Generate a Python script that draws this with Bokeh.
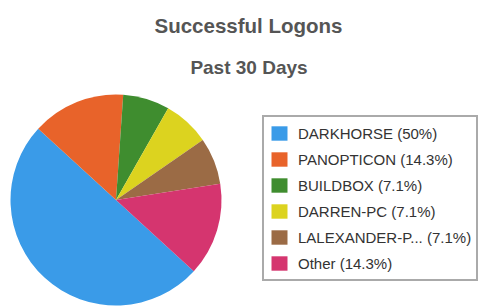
from math import pi
from bokeh.plotting import figure
from bokeh.models import ColumnDataSource, Range1d, Legend, LegendItem
from bokeh.core.properties import value
from bokeh.embed import file_html
from bokeh.resources import INLINE

# ---- data ----
hosts = ["DARKHORSE", "PANOPTICON", "BUILDBOX", "DARREN-PC", "LALEXANDER-P...", "Other"]
logons = [7, 2, 1, 1, 1, 2]
pct_labels = ["50%", "14.3%", "7.1%", "7.1%", "7.1%", "14.3%"]
colors = ["#3A9BE8", "#E8632A", "#3F8D2F", "#DCD31F", "#9B6B45", "#D5356F"]
title_text = "Successful Logons"
subtitle_text = "Past 30 Days"

W, H = 480, 308
total = sum(logons)
start0 = -42.5 * pi / 180.0
starts, ends = [], []
cum = 0
for v in logons:
    end = start0 - cum / total * 2 * pi
    cum += v
    start = start0 - cum / total * 2 * pi
    starts.append(start)
    ends.append(end)

labels = [f"{h} ({p})" for h, p in zip(hosts, pct_labels)]
src = ColumnDataSource(dict(start=starts, end=ends, color=colors, label=labels))

p = figure(width=W, height=H, output_backend="svg", toolbar_location=None,
           x_range=Range1d(0, W), y_range=Range1d(0, H),
           x_axis_location=None, y_axis_location=None, min_border=0)
p.grid.visible = False
p.outline_line_color = None
p.background_fill_color = "white"

cx, cy, r = 115.5, H - 199.5, 105.5
wr = p.wedge(x=cx, y=cy, radius=r, start_angle="start", end_angle="end",
             fill_color="color", line_color=None, source=src)

p.text(x=[248], y=[H - 25], text=[title_text], text_align="center",
       text_baseline="alphabetic", text_font=value("Liberation Sans"),
       text_font_style="bold", text_font_size="20.5px", text_color="#555555")
p.text(x=[248.5], y=[H - 67], text=[subtitle_text], text_align="center",
       text_baseline="alphabetic", text_font=value("Liberation Sans"),
       text_font_style="bold", text_font_size="19px", text_color="#555555")

items = [LegendItem(label=lab, renderers=[wr], index=i) for i, lab in enumerate(labels)]
legend = Legend(items=items, location=(262, 27), orientation="vertical",
                glyph_width=20, glyph_height=18, label_standoff=9, padding=5,
                spacing=4, label_height=22, margin=0,
                label_text_font="Liberation Sans", label_text_font_size="15px",
                label_text_color="#333333", border_line_color="#555555",
                border_line_width=2, background_fill_color="white",
                background_fill_alpha=1.0)
p.add_layout(legend)

open("out.html", "w").write(file_html(p, INLINE))
